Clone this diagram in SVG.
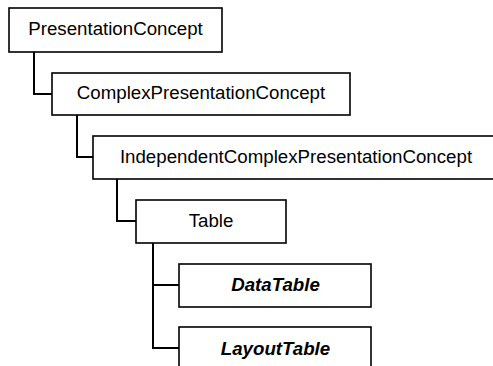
<svg xmlns="http://www.w3.org/2000/svg" width="493" height="366" viewBox="0 0 493 366">
<style>
.box{fill:#fff;stroke:#000;stroke-width:1.6}
.lbl{font-family:"Liberation Sans",Arial,sans-serif;font-size:18.7px;fill:#000;text-anchor:middle}
.bi{font-weight:bold;font-style:italic}
.conn{fill:none;stroke:#000;stroke-width:2}
</style>
<rect width="493" height="366" fill="#fff"/>
<g id="connectors">
<path class="conn" d="M34,52 V94 H52"/>
<path class="conn" d="M77,115 V157 H93"/>
<path class="conn" d="M117,179 V221 H136"/>
<path class="conn" d="M153,243 V348 H179 M153,285 H179"/>
</g>
<g id="n1"><rect class="box" x="9" y="8" width="213" height="44"/><text class="lbl" x="115.5" y="35">PresentationConcept</text></g>
<g id="n2"><rect class="box" x="52" y="73" width="298" height="42"/><text class="lbl" x="201" y="99">ComplexPresentationConcept</text></g>
<g id="n3"><rect class="box" x="93" y="136" width="410" height="43"/><text class="lbl" x="296" y="163">IndependentComplexPresentationConcept</text></g>
<g id="n4"><rect class="box" x="136" y="200" width="150" height="43"/><text class="lbl" x="211" y="227">Table</text></g>
<g id="n5"><rect class="box" x="179" y="264" width="192" height="43"/><text class="lbl bi" x="275.5" y="291">DataTable</text></g>
<g id="n6"><rect class="box" x="179" y="327" width="192" height="50"/><text class="lbl bi" x="275.5" y="355">LayoutTable</text></g>
</svg>
